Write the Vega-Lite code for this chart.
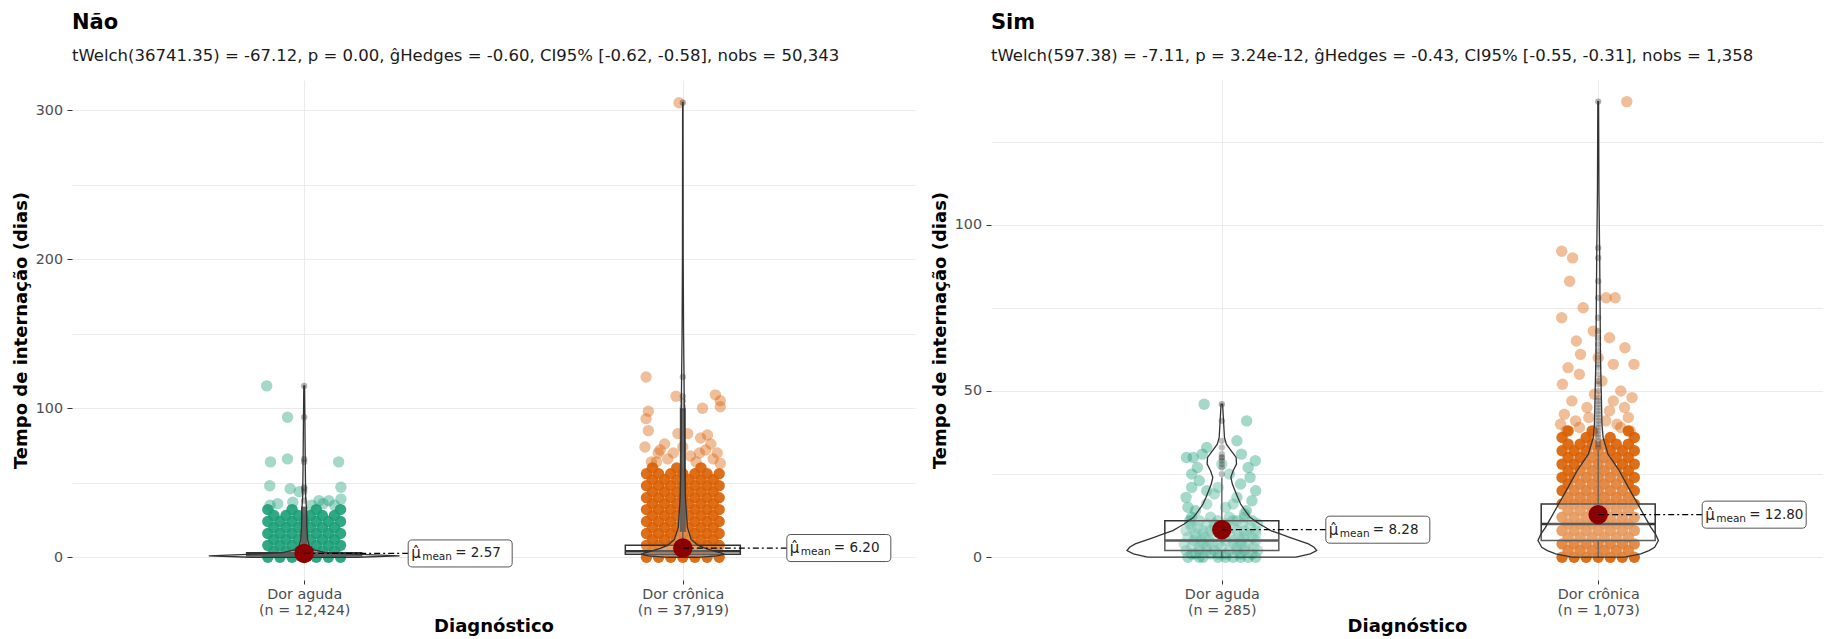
{
"$schema": "https://vega.github.io/schema/vega-lite/v6.json",
"background": "white",
"padding": {"left": 12, "top": 11, "right": 0, "bottom": 0},
"spacing": 16,
"config": {
 "font": "DejaVu Sans",
 "view": {"stroke": null},
 "axis": {"domain": false, "gridColor": "#EBEBEB", "gridWidth": 1.1, "tickColor": "#333333", "tickWidth": 1, "labelColor": "#4D4D4D", "labelFont": "DejaVu Sans", "titleFont": "DejaVu Sans", "titleFontWeight": "bold", "titleColor": "#000000", "titleFontSize": 18, "labelFontSize": 14.3},
 "axisX": {"tickSize": 4, "labelPadding": 3, "titlePadding": 0, "labelLineHeight": 16.5},
 "axisY": {"tickSize": 5, "labelPadding": 4.5, "titlePadding": 5},
 "title": {"anchor": "start", "frame": "group", "font": "DejaVu Sans", "fontSize": 21, "fontWeight": "bold", "color": "#000000", "subtitleFont": "DejaVu Sans", "subtitleFontSize": 16.5, "subtitleColor": "#1A1A1A", "subtitlePadding": 15, "offset": 16}
},
"datasets": {
 "nD": [
 {"x":0.904,"y":0},{"x":0.936,"y":0},{"x":0.968,"y":0},{"x":1,"y":0},{"x":1.032,"y":0},{"x":1.064,"y":0},{"x":1.096,"y":0},
 {"x":0.92,"y":4},{"x":0.952,"y":4},{"x":0.984,"y":4},{"x":1.016,"y":4},{"x":1.048,"y":4},{"x":1.08,"y":4},
 {"x":0.904,"y":8},{"x":0.936,"y":8},{"x":0.968,"y":8},{"x":1,"y":8},{"x":1.032,"y":8},{"x":1.064,"y":8},{"x":1.096,"y":8},
 {"x":0.92,"y":12},{"x":0.952,"y":12},{"x":0.984,"y":12},{"x":1.016,"y":12},{"x":1.048,"y":12},{"x":1.08,"y":12},
 {"x":0.904,"y":16},{"x":0.936,"y":16},{"x":0.968,"y":16},{"x":1,"y":16},{"x":1.032,"y":16},{"x":1.064,"y":16},{"x":1.096,"y":16},
 {"x":0.92,"y":20},{"x":0.952,"y":20},{"x":0.984,"y":20},{"x":1.016,"y":20},{"x":1.048,"y":20},{"x":1.08,"y":20},
 {"x":0.904,"y":24},{"x":0.936,"y":24},{"x":0.968,"y":24},{"x":1,"y":24},{"x":1.032,"y":24},{"x":1.064,"y":24},{"x":1.096,"y":24},
 {"x":0.92,"y":28},{"x":0.952,"y":28},{"x":0.984,"y":28},{"x":1.016,"y":28},{"x":1.048,"y":28},{"x":1.08,"y":28},
 {"x":0.904,"y":32},{"x":0.968,"y":32},{"x":1.032,"y":32},{"x":1.096,"y":32},
 {"x":1.904,"y":0},{"x":1.936,"y":0},{"x":1.968,"y":0},{"x":2,"y":0},{"x":2.032,"y":0},{"x":2.064,"y":0},{"x":2.096,"y":0},
 {"x":1.92,"y":4},{"x":1.952,"y":4},{"x":1.984,"y":4},{"x":2.016,"y":4},{"x":2.048,"y":4},{"x":2.08,"y":4},
 {"x":1.904,"y":8},{"x":1.936,"y":8},{"x":1.968,"y":8},{"x":2,"y":8},{"x":2.032,"y":8},{"x":2.064,"y":8},{"x":2.096,"y":8},
 {"x":1.92,"y":12},{"x":1.952,"y":12},{"x":1.984,"y":12},{"x":2.016,"y":12},{"x":2.048,"y":12},{"x":2.08,"y":12},
 {"x":1.904,"y":16},{"x":1.936,"y":16},{"x":1.968,"y":16},{"x":2,"y":16},{"x":2.032,"y":16},{"x":2.064,"y":16},{"x":2.096,"y":16},
 {"x":1.92,"y":20},{"x":1.952,"y":20},{"x":1.984,"y":20},{"x":2.016,"y":20},{"x":2.048,"y":20},{"x":2.08,"y":20},
 {"x":1.904,"y":24},{"x":1.936,"y":24},{"x":1.968,"y":24},{"x":2,"y":24},{"x":2.032,"y":24},{"x":2.064,"y":24},{"x":2.096,"y":24},
 {"x":1.92,"y":28},{"x":1.952,"y":28},{"x":1.984,"y":28},{"x":2.016,"y":28},{"x":2.048,"y":28},{"x":2.08,"y":28},
 {"x":1.904,"y":32},{"x":1.936,"y":32},{"x":1.968,"y":32},{"x":2,"y":32},{"x":2.032,"y":32},{"x":2.064,"y":32},{"x":2.096,"y":32},
 {"x":1.92,"y":36},{"x":1.952,"y":36},{"x":1.984,"y":36},{"x":2.016,"y":36},{"x":2.048,"y":36},{"x":2.08,"y":36},
 {"x":1.904,"y":40},{"x":1.936,"y":40},{"x":1.968,"y":40},{"x":2,"y":40},{"x":2.032,"y":40},{"x":2.064,"y":40},{"x":2.096,"y":40},
 {"x":1.92,"y":44},{"x":1.952,"y":44},{"x":1.984,"y":44},{"x":2.016,"y":44},{"x":2.048,"y":44},{"x":2.08,"y":44},
 {"x":1.904,"y":48},{"x":1.936,"y":48},{"x":1.968,"y":48},{"x":2,"y":48},{"x":2.032,"y":48},{"x":2.064,"y":48},{"x":2.096,"y":48},
 {"x":1.92,"y":52},{"x":1.952,"y":52},{"x":1.984,"y":52},{"x":2.016,"y":52},{"x":2.048,"y":52},{"x":2.08,"y":52},
 {"x":1.904,"y":56},{"x":1.936,"y":56},{"x":1.968,"y":56},{"x":2,"y":56},{"x":2.032,"y":56},{"x":2.064,"y":56},{"x":2.096,"y":56},
 {"x":1.92,"y":60},{"x":1.984,"y":60},{"x":2.048,"y":60}
 ],
 "nS": [
 {"x":0.901,"y":115},{"x":0.956,"y":94},{"x":0.956,"y":66},{"x":0.911,"y":64},{"x":1.091,"y":64},{"x":0.909,"y":48},{"x":0.963,"y":46},{"x":0.987,"y":44},{"x":1.097,"y":47},{"x":1.039,"y":38},{"x":1.065,"y":38},{"x":1.097,"y":39},{"x":0.93,"y":36},{"x":1.02,"y":35},{"x":0.97,"y":37},{"x":1.08,"y":35},{"x":0.91,"y":35},{"x":1.05,"y":36},
 {"x":1.99,"y":305},{"x":1.903,"y":121},{"x":2.086,"y":109},{"x":2.099,"y":105},{"x":2.099,"y":101},{"x":2.052,"y":100},{"x":1.909,"y":98},{"x":1.982,"y":108},{"x":1.903,"y":93},{"x":1.909,"y":85},{"x":1.987,"y":83},{"x":2.013,"y":83},{"x":2.065,"y":82},{"x":2.047,"y":80},{"x":1.9,"y":74},{"x":1.952,"y":76},{"x":2.074,"y":76},{"x":2.091,"y":70},{"x":1.935,"y":70},{"x":2.044,"y":70},{"x":2.099,"y":63},{"x":1.917,"y":64},{"x":1.96,"y":66},{"x":2.02,"y":68},{"x":2.08,"y":66},{"x":1.94,"y":72},{"x":2,"y":74},{"x":1.93,"y":64},{"x":2.035,"y":64},{"x":1.975,"y":70},{"x":2.06,"y":72}
 ],
 "nV": [
 {"g":"a","y":0,"lo":0.86,"hi":1.14},{"g":"a","y":1,"lo":0.748,"hi":1.252},{"g":"a","y":2,"lo":0.85,"hi":1.15},{"g":"a","y":3,"lo":0.94,"hi":1.06},{"g":"a","y":5,"lo":0.975,"hi":1.025},{"g":"a","y":8,"lo":0.987,"hi":1.013},{"g":"a","y":12,"lo":0.991,"hi":1.009},{"g":"a","y":20,"lo":0.993,"hi":1.007},{"g":"a","y":33,"lo":0.994,"hi":1.006},{"g":"a","y":40,"lo":0.996,"hi":1.004},{"g":"a","y":60,"lo":0.997,"hi":1.003},{"g":"a","y":90,"lo":0.998,"hi":1.002},{"g":"a","y":115,"lo":0.999,"hi":1.001},
 {"g":"c","y":0,"lo":1.96,"hi":2.04},{"g":"c","y":1,"lo":1.91,"hi":2.09},{"g":"c","y":2,"lo":1.89,"hi":2.11},{"g":"c","y":3,"lo":1.9,"hi":2.1},{"g":"c","y":4,"lo":1.915,"hi":2.085},{"g":"c","y":6,"lo":1.94,"hi":2.06},{"g":"c","y":8,"lo":1.96,"hi":2.04},{"g":"c","y":12,"lo":1.978,"hi":2.022},{"g":"c","y":20,"lo":1.988,"hi":2.012},{"g":"c","y":40,"lo":1.993,"hi":2.007},{"g":"c","y":60,"lo":1.995,"hi":2.005},{"g":"c","y":100,"lo":1.996,"hi":2.004},{"g":"c","y":150,"lo":1.998,"hi":2.002},{"g":"c","y":200,"lo":1.999,"hi":2.001},{"g":"c","y":305,"lo":1.9995,"hi":2.0005}
 ],
 "nB": [{"x":1,"q1":1,"med":2,"q3":3},{"x":2,"q1":2,"med":4,"q3":8}],
 "nW": [{"x":1,"a":0,"b":1},{"x":1,"a":3,"b":6},{"x":2,"a":0,"b":2},{"x":2,"a":8,"b":17}],
 "nBand": [{"x":1,"a":6,"b":34},{"x":2,"a":17,"b":100}],
 "nO": [{"x":1,"y":38},{"x":1,"y":44},{"x":1,"y":46},{"x":1,"y":47},{"x":1,"y":64},{"x":1,"y":66},{"x":1,"y":94},{"x":1,"y":115},{"x":2,"y":101},{"x":2,"y":105},{"x":2,"y":108},{"x":2,"y":121},{"x":2,"y":305}],
 "nM": [{"x":1,"m":2.57,"t":"= 2.57"},{"x":2,"m":6.2,"t":"= 6.20"}],
 "sD": [
 {"x":1.904,"y":0},{"x":1.936,"y":0},{"x":1.968,"y":0},{"x":2,"y":0},{"x":2.032,"y":0},{"x":2.064,"y":0},{"x":2.096,"y":0},
 {"x":1.92,"y":2},{"x":1.952,"y":2},{"x":1.984,"y":2},{"x":2.016,"y":2},{"x":2.048,"y":2},{"x":2.08,"y":2},
 {"x":1.904,"y":4},{"x":1.936,"y":4},{"x":1.968,"y":4},{"x":2,"y":4},{"x":2.032,"y":4},{"x":2.064,"y":4},{"x":2.096,"y":4},
 {"x":1.92,"y":6},{"x":1.952,"y":6},{"x":1.984,"y":6},{"x":2.016,"y":6},{"x":2.048,"y":6},{"x":2.08,"y":6},
 {"x":1.904,"y":8},{"x":1.936,"y":8},{"x":1.968,"y":8},{"x":2,"y":8},{"x":2.032,"y":8},{"x":2.064,"y":8},{"x":2.096,"y":8},
 {"x":1.92,"y":10},{"x":1.952,"y":10},{"x":1.984,"y":10},{"x":2.016,"y":10},{"x":2.048,"y":10},{"x":2.08,"y":10},
 {"x":1.904,"y":12},{"x":1.936,"y":12},{"x":1.968,"y":12},{"x":2,"y":12},{"x":2.032,"y":12},{"x":2.064,"y":12},{"x":2.096,"y":12},
 {"x":1.92,"y":14},{"x":1.952,"y":14},{"x":1.984,"y":14},{"x":2.016,"y":14},{"x":2.048,"y":14},{"x":2.08,"y":14},
 {"x":1.904,"y":16},{"x":1.936,"y":16},{"x":1.968,"y":16},{"x":2,"y":16},{"x":2.032,"y":16},{"x":2.064,"y":16},{"x":2.096,"y":16},
 {"x":1.92,"y":18},{"x":1.952,"y":18},{"x":1.984,"y":18},{"x":2.016,"y":18},{"x":2.048,"y":18},{"x":2.08,"y":18},
 {"x":1.904,"y":20},{"x":1.936,"y":20},{"x":1.968,"y":20},{"x":2,"y":20},{"x":2.032,"y":20},{"x":2.064,"y":20},{"x":2.096,"y":20},
 {"x":1.92,"y":22},{"x":1.952,"y":22},{"x":1.984,"y":22},{"x":2.016,"y":22},{"x":2.048,"y":22},{"x":2.08,"y":22},
 {"x":1.904,"y":24},{"x":1.936,"y":24},{"x":1.968,"y":24},{"x":2,"y":24},{"x":2.032,"y":24},{"x":2.064,"y":24},{"x":2.096,"y":24},
 {"x":1.92,"y":26},{"x":1.952,"y":26},{"x":1.984,"y":26},{"x":2.016,"y":26},{"x":2.048,"y":26},{"x":2.08,"y":26},
 {"x":1.904,"y":28},{"x":1.936,"y":28},{"x":1.968,"y":28},{"x":2,"y":28},{"x":2.032,"y":28},{"x":2.064,"y":28},{"x":2.096,"y":28},
 {"x":1.92,"y":30},{"x":1.952,"y":30},{"x":1.984,"y":30},{"x":2.016,"y":30},{"x":2.048,"y":30},{"x":2.08,"y":30},
 {"x":1.904,"y":32},{"x":1.936,"y":32},{"x":1.968,"y":32},{"x":2,"y":32},{"x":2.032,"y":32},{"x":2.064,"y":32},{"x":2.096,"y":32},
 {"x":1.92,"y":34},{"x":1.952,"y":34},{"x":1.984,"y":34},{"x":2.016,"y":34},{"x":2.048,"y":34},{"x":2.08,"y":34},
 {"x":1.904,"y":36},{"x":1.968,"y":36},{"x":2.032,"y":36},{"x":2.096,"y":36},
 {"x":1.92,"y":38},{"x":1.984,"y":38},{"x":2.08,"y":38}
 ],
 "sS": [
 {"x":0.91,"y":0},{"x":0.95,"y":0},{"x":0.99,"y":0},{"x":1.03,"y":0},{"x":1.07,"y":0},{"x":1.09,"y":0},
 {"x":0.93,"y":1},{"x":0.97,"y":1},{"x":1.01,"y":1},{"x":1.05,"y":1},{"x":1.08,"y":1},
 {"x":0.905,"y":2},{"x":0.94,"y":2},{"x":0.98,"y":2},{"x":1.02,"y":2},{"x":1.06,"y":2},{"x":1.095,"y":2},
 {"x":0.92,"y":3},{"x":0.96,"y":3},{"x":1,"y":3},{"x":1.04,"y":3},{"x":1.085,"y":3},
 {"x":0.9,"y":4},{"x":0.95,"y":4},{"x":0.99,"y":4},{"x":1.03,"y":4},{"x":1.07,"y":4},
 {"x":0.925,"y":5},{"x":0.965,"y":5},{"x":1.01,"y":5},{"x":1.05,"y":5},{"x":1.09,"y":5},
 {"x":0.91,"y":6},{"x":0.955,"y":6},{"x":1,"y":6},{"x":1.045,"y":6},{"x":1.08,"y":6},
 {"x":0.93,"y":7},{"x":0.975,"y":7},{"x":1.02,"y":7},{"x":1.065,"y":7},
 {"x":0.905,"y":8},{"x":0.95,"y":8},{"x":0.995,"y":8},{"x":1.04,"y":8},{"x":1.09,"y":8},
 {"x":0.935,"y":9},{"x":0.98,"y":9},{"x":1.03,"y":9},{"x":1.075,"y":9},
 {"x":0.915,"y":10},{"x":0.96,"y":10},{"x":1.01,"y":10},{"x":1.055,"y":10},{"x":1.095,"y":10},
 {"x":0.94,"y":11},{"x":0.99,"y":11},{"x":1.04,"y":11},{"x":1.08,"y":11},
 {"x":0.92,"y":12},{"x":0.97,"y":12},{"x":1.02,"y":12},{"x":1.06,"y":12},
 {"x":0.94,"y":0},{"x":1.01,"y":0},{"x":1.05,"y":0},{"x":0.92,"y":1},{"x":0.99,"y":1},{"x":1.04,"y":2},{"x":0.96,"y":2},{"x":0.94,"y":3},{"x":1.06,"y":3},{"x":0.975,"y":4},{"x":1.05,"y":4},{"x":0.945,"y":5},{"x":1.03,"y":5},{"x":0.93,"y":6},{"x":1.06,"y":6},{"x":0.95,"y":7},{"x":1.09,"y":7},{"x":0.97,"y":8},{"x":1.06,"y":8},{"x":0.92,"y":9},{"x":1.01,"y":9},{"x":0.98,"y":10},{"x":1.03,"y":11},{"x":0.915,"y":11},
 {"x":0.93,"y":14},{"x":1.06,"y":13},{"x":1.01,"y":15},{"x":0.96,"y":16},{"x":1.08,"y":17},{"x":0.905,"y":18},{"x":1.04,"y":18},{"x":0.98,"y":19},{"x":1.09,"y":20},{"x":0.92,"y":21},{"x":0.99,"y":21},{"x":1.05,"y":22},{"x":0.94,"y":23},{"x":1.075,"y":24},{"x":1.02,"y":25},{"x":0.96,"y":20},{"x":1.03,"y":16},{"x":0.91,"y":15},{"x":1.065,"y":14},
 {"x":0.906,"y":30},{"x":0.924,"y":30},{"x":0.948,"y":31},{"x":1.052,"y":31},{"x":1.089,"y":29},{"x":0.953,"y":46},{"x":1.066,"y":41},{"x":0.935,"y":27},{"x":1.07,"y":27},{"x":1,"y":28},{"x":0.96,"y":33},{"x":1.04,"y":35},{"x":0.92,"y":25},
 {"x":2.076,"y":137},{"x":1.903,"y":92},{"x":1.932,"y":90},{"x":1.924,"y":83},{"x":1.903,"y":72},{"x":2.045,"y":78},{"x":2.021,"y":78},{"x":2.071,"y":63},{"x":1.942,"y":65},{"x":1.953,"y":61},{"x":2.04,"y":58},{"x":1.987,"y":68},{"x":1.905,"y":52},{"x":2.09,"y":48},{"x":2.06,"y":50},{"x":1.93,"y":47},{"x":1.97,"y":45},{"x":2.03,"y":44},{"x":2.08,"y":42},{"x":1.91,"y":43},{"x":1.95,"y":55},{"x":2.01,"y":53},{"x":2.095,"y":58},{"x":1.94,"y":41},{"x":2.05,"y":40},{"x":1.99,"y":49},{"x":1.92,"y":57},{"x":2.07,"y":45},{"x":1.96,"y":75},{"x":2.03,"y":66},{"x":2.085,"y":38},{"x":1.915,"y":38},{"x":1.975,"y":42},{"x":2.04,"y":47},{"x":2,"y":60},{"x":1.9,"y":40},{"x":2.06,"y":39},{"x":1.95,"y":39},{"x":2.02,"y":41},{"x":1.985,"y":37}
 ],
 "sV": [
 {"g":"a","y":0,"lo":0.803,"hi":1.197},{"g":"a","y":1,"lo":0.765,"hi":1.235},{"g":"a","y":2,"lo":0.748,"hi":1.252},{"g":"a","y":3,"lo":0.755,"hi":1.245},{"g":"a","y":4,"lo":0.77,"hi":1.23},{"g":"a","y":5,"lo":0.795,"hi":1.205},{"g":"a","y":6,"lo":0.82,"hi":1.18},{"g":"a","y":7,"lo":0.845,"hi":1.155},{"g":"a","y":8,"lo":0.87,"hi":1.13},{"g":"a","y":9,"lo":0.885,"hi":1.115},{"g":"a","y":10,"lo":0.9,"hi":1.1},{"g":"a","y":12,"lo":0.925,"hi":1.075},{"g":"a","y":14,"lo":0.938,"hi":1.062},{"g":"a","y":16,"lo":0.95,"hi":1.05},{"g":"a","y":18,"lo":0.958,"hi":1.042},{"g":"a","y":20,"lo":0.965,"hi":1.035},{"g":"a","y":22,"lo":0.972,"hi":1.028},{"g":"a","y":24,"lo":0.976,"hi":1.024},{"g":"a","y":26,"lo":0.97,"hi":1.03},{"g":"a","y":28,"lo":0.961,"hi":1.039},{"g":"a","y":30,"lo":0.962,"hi":1.038},{"g":"a","y":32,"lo":0.975,"hi":1.025},{"g":"a","y":34,"lo":0.988,"hi":1.012},{"g":"a","y":36,"lo":0.993,"hi":1.007},{"g":"a","y":40,"lo":0.995,"hi":1.005},{"g":"a","y":46,"lo":0.998,"hi":1.002},
 {"g":"c","y":0,"lo":1.93,"hi":2.07},{"g":"c","y":1,"lo":1.887,"hi":2.113},{"g":"c","y":2,"lo":1.865,"hi":2.135},{"g":"c","y":3,"lo":1.85,"hi":2.15},{"g":"c","y":5,"lo":1.84,"hi":2.16},{"g":"c","y":7,"lo":1.848,"hi":2.152},{"g":"c","y":9,"lo":1.86,"hi":2.14},{"g":"c","y":12,"lo":1.875,"hi":2.125},{"g":"c","y":16,"lo":1.895,"hi":2.105},{"g":"c","y":21,"lo":1.92,"hi":2.08},{"g":"c","y":26,"lo":1.944,"hi":2.056},{"g":"c","y":31,"lo":1.974,"hi":2.026},{"g":"c","y":36,"lo":1.987,"hi":2.013},{"g":"c","y":40,"lo":1.99,"hi":2.01},{"g":"c","y":50,"lo":1.992,"hi":2.008},{"g":"c","y":60,"lo":1.994,"hi":2.006},{"g":"c","y":75,"lo":1.995,"hi":2.005},{"g":"c","y":90,"lo":1.996,"hi":2.004},{"g":"c","y":110,"lo":1.998,"hi":2.002},{"g":"c","y":137,"lo":1.999,"hi":2.001}
 ],
 "sB": [{"x":1,"q1":2,"med":5,"q3":11},{"x":2,"q1":5,"med":10,"q3":16}],
 "sW": [{"x":1,"a":0,"b":2},{"x":1,"a":11,"b":24},{"x":2,"a":0,"b":5},{"x":2,"a":16,"b":32}],
 "sO": [{"x":1,"y":25},{"x":1,"y":27},{"x":1,"y":28},{"x":1,"y":29},{"x":1,"y":30},{"x":1,"y":30},{"x":1,"y":31},{"x":1,"y":33},{"x":1,"y":35},{"x":1,"y":41},{"x":1,"y":46},
 {"x":2,"y":33},{"x":2,"y":34},{"x":2,"y":35},{"x":2,"y":36},{"x":2,"y":37},{"x":2,"y":38},{"x":2,"y":39},{"x":2,"y":40},{"x":2,"y":41},{"x":2,"y":42},{"x":2,"y":43},{"x":2,"y":44},{"x":2,"y":45},{"x":2,"y":46},{"x":2,"y":47},{"x":2,"y":48},{"x":2,"y":50},{"x":2,"y":52},{"x":2,"y":53},{"x":2,"y":55},{"x":2,"y":57},{"x":2,"y":58},{"x":2,"y":60},{"x":2,"y":62},{"x":2,"y":64},{"x":2,"y":66},{"x":2,"y":68},{"x":2,"y":72},{"x":2,"y":78},{"x":2,"y":83},{"x":2,"y":90},{"x":2,"y":93},{"x":2,"y":137}],
 "sM": [{"x":1,"m":8.28,"t":"= 8.28"},{"x":2,"m":12.8,"t":"= 12.80"}]
},
"hconcat": [
 {
  "title": {"text": "Não", "subtitle": "tWelch(36741.35) = -67.12, p = 0.00, ĝHedges = -0.60, CI95% [-0.62, -0.58], nobs = 50,343"},
  "width": 843, "height": 500,
  "layer": [
   {"data": {"name": "nD"}, "mark": {"type": "circle", "size": 130, "opacity": 0.9},
    "encoding": {
     "x": {"field": "x", "type": "quantitative", "scale": {"domain": [0.4, 2.6], "nice": false, "zero": false},
           "axis": {"values": [1, 2], "title": "Diagnóstico", "grid": true, "labelExpr": "datum.value == 1 ? ['Dor aguda', '(n = 12,424)'] : ['Dor crônica', '(n = 37,919)']"}},
     "y": {"field": "y", "type": "quantitative", "scale": {"domain": [-15.25, 320.25], "nice": false, "zero": false},
           "axis": {"values": [0, 50, 100, 150, 200, 250, 300], "title": "Tempo de internação (dias)", "labelExpr": "datum.value % 100 === 0 ? datum.label : ''", "tickOpacity": {"condition": {"test": "datum.value % 100 !== 0", "value": 0}, "value": 1}}},
     "color": {"condition": {"test": "datum.x < 1.5", "value": "#1B9E77"}, "value": "#D95F02"}}},
   {"data": {"name": "nS"}, "mark": {"type": "circle", "size": 130, "opacity": 0.4},
    "encoding": {"x": {"field": "x", "type": "quantitative", "title": "Diagnóstico"}, "y": {"field": "y", "type": "quantitative", "title": "Tempo de internação (dias)"},
     "color": {"condition": {"test": "datum.x < 1.5", "value": "#1B9E77"}, "value": "#D95F02"}}},
   {"data": {"name": "nW"}, "mark": {"type": "rule", "color": "#333333", "strokeWidth": 1.3},
    "encoding": {"x": {"field": "x", "type": "quantitative", "title": "Diagnóstico"}, "y": {"field": "a", "type": "quantitative", "title": "Tempo de internação (dias)"}, "y2": {"field": "b"}}},
   {"data": {"name": "nBand"}, "mark": {"type": "rule", "color": "#333333", "strokeWidth": 6, "opacity": 0.9},
    "encoding": {"x": {"field": "x", "type": "quantitative", "title": "Diagnóstico"}, "y": {"field": "a", "type": "quantitative", "title": "Tempo de internação (dias)"}, "y2": {"field": "b"}}},
   {"data": {"name": "nO"}, "mark": {"type": "circle", "size": 40, "color": "#000000", "opacity": 0.3},
    "encoding": {"x": {"field": "x", "type": "quantitative", "title": "Diagnóstico"}, "y": {"field": "y", "type": "quantitative", "title": "Tempo de internação (dias)"}}},
   {"data": {"name": "nB"}, "mark": {"type": "bar", "orient": "vertical", "size": 115, "fill": "#FFFFFF", "fillOpacity": 0.2, "stroke": "#333333", "strokeWidth": 1.5},
    "encoding": {"x": {"field": "x", "type": "quantitative", "title": "Diagnóstico"}, "y": {"field": "q1", "type": "quantitative", "title": "Tempo de internação (dias)"}, "y2": {"field": "q3"}}},
   {"data": {"name": "nB"}, "mark": {"type": "tick", "orient": "horizontal", "size": 115, "thickness": 2.5, "color": "#333333", "opacity": 1},
    "encoding": {"x": {"field": "x", "type": "quantitative", "title": "Diagnóstico"}, "y": {"field": "med", "type": "quantitative", "title": "Tempo de internação (dias)"}}},
   {"data": {"name": "nV"}, "mark": {"type": "area", "orient": "horizontal", "fill": "#FFFFFF", "fillOpacity": 0.2, "stroke": "#333333", "strokeWidth": 1.3},
    "encoding": {"y": {"field": "y", "type": "quantitative", "title": "Tempo de internação (dias)"}, "x": {"field": "lo", "type": "quantitative", "title": "Diagnóstico"}, "x2": {"field": "hi"}, "detail": {"field": "g"}}},
   {"data": {"name": "nM"}, "mark": {"type": "circle", "size": 380, "color": "#8B0000", "opacity": 1},
    "encoding": {"x": {"field": "x", "type": "quantitative", "title": "Diagnóstico"}, "y": {"field": "m", "type": "quantitative", "title": "Tempo de internação (dias)"}}},
   {"data": {"name": "nM"}, "mark": {"type": "point", "shape": "M0,0H2", "size": 10816, "filled": false, "stroke": "#000000", "strokeWidth": 1.3, "strokeDash": [6, 3, 2, 3], "opacity": 1},
    "encoding": {"x": {"field": "x", "type": "quantitative", "title": "Diagnóstico"}, "y": {"field": "m", "type": "quantitative", "title": "Tempo de internação (dias)"}}},
   {"data": {"name": "nM"}, "mark": {"type": "point", "shape": "M2.08,-0.26H3.92Q4,-0.26 4,-0.18V0.18Q4,0.26 3.92,0.26H2.08Q2,0.26 2,0.18V-0.18Q2,-0.26 2.08,-0.26Z", "size": 10816, "filled": true, "fill": "#FFFFFF", "stroke": "#555555", "strokeWidth": 1, "opacity": 1},
    "encoding": {"x": {"field": "x", "type": "quantitative", "title": "Diagnóstico"}, "y": {"field": "m", "type": "quantitative", "title": "Tempo de internação (dias)"}}},
   {"data": {"name": "nM"}, "mark": {"type": "text", "text": "μ̂", "dx": 107, "align": "left", "baseline": "middle", "fontSize": 15, "color": "#222222"},
    "encoding": {"x": {"field": "x", "type": "quantitative", "title": "Diagnóstico"}, "y": {"field": "m", "type": "quantitative", "title": "Tempo de internação (dias)"}}},
   {"data": {"name": "nM"}, "mark": {"type": "text", "text": "mean", "dx": 118, "dy": 4, "align": "left", "baseline": "middle", "fontSize": 10.5, "color": "#222222"},
    "encoding": {"x": {"field": "x", "type": "quantitative", "title": "Diagnóstico"}, "y": {"field": "m", "type": "quantitative", "title": "Tempo de internação (dias)"}}},
   {"data": {"name": "nM"}, "mark": {"type": "text", "dx": 151, "align": "left", "baseline": "middle", "fontSize": 13.5, "color": "#222222"},
    "encoding": {"x": {"field": "x", "type": "quantitative", "title": "Diagnóstico"}, "y": {"field": "m", "type": "quantitative", "title": "Tempo de internação (dias)"}, "text": {"field": "t"}}}
  ]
 },
 {
  "title": {"text": "Sim", "subtitle": "tWelch(597.38) = -7.11, p = 3.24e-12, ĝHedges = -0.43, CI95% [-0.55, -0.31], nobs = 1,358"},
  "width": 832, "height": 500,
  "layer": [
   {"data": {"name": "sD"}, "mark": {"type": "circle", "size": 130, "opacity": 0.9},
    "encoding": {
     "x": {"field": "x", "type": "quantitative", "scale": {"domain": [0.4, 2.584], "nice": false, "zero": false},
           "axis": {"values": [1, 2], "title": "Diagnóstico", "grid": true, "labelExpr": "datum.value == 1 ? ['Dor aguda', '(n = 285)'] : ['Dor crônica', '(n = 1,073)']"}},
     "y": {"field": "y", "type": "quantitative", "scale": {"domain": [-6.85, 143.5], "nice": false, "zero": false},
           "axis": {"values": [0, 25, 50, 75, 100, 125], "title": "Tempo de internação (dias)", "labelExpr": "datum.value % 50 === 0 ? datum.label : ''", "tickOpacity": {"condition": {"test": "datum.value % 50 !== 0", "value": 0}, "value": 1}}},
     "color": {"condition": {"test": "datum.x < 1.5", "value": "#1B9E77"}, "value": "#D95F02"}}},
   {"data": {"name": "sS"}, "mark": {"type": "circle", "size": 130, "opacity": 0.4},
    "encoding": {"x": {"field": "x", "type": "quantitative", "title": "Diagnóstico"}, "y": {"field": "y", "type": "quantitative", "title": "Tempo de internação (dias)"},
     "color": {"condition": {"test": "datum.x < 1.5", "value": "#1B9E77"}, "value": "#D95F02"}}},
   {"data": {"name": "sW"}, "mark": {"type": "rule", "color": "#333333", "strokeWidth": 1.3},
    "encoding": {"x": {"field": "x", "type": "quantitative", "title": "Diagnóstico"}, "y": {"field": "a", "type": "quantitative", "title": "Tempo de internação (dias)"}, "y2": {"field": "b"}}},
   {"data": {"name": "sO"}, "mark": {"type": "circle", "size": 40, "color": "#000000", "opacity": 0.3},
    "encoding": {"x": {"field": "x", "type": "quantitative", "title": "Diagnóstico"}, "y": {"field": "y", "type": "quantitative", "title": "Tempo de internação (dias)"}}},
   {"data": {"name": "sB"}, "mark": {"type": "bar", "orient": "vertical", "size": 114, "fill": "#FFFFFF", "fillOpacity": 0.2, "stroke": "#333333", "strokeWidth": 1.5},
    "encoding": {"x": {"field": "x", "type": "quantitative", "title": "Diagnóstico"}, "y": {"field": "q1", "type": "quantitative", "title": "Tempo de internação (dias)"}, "y2": {"field": "q3"}}},
   {"data": {"name": "sB"}, "mark": {"type": "tick", "orient": "horizontal", "size": 114, "thickness": 2.5, "color": "#333333", "opacity": 1},
    "encoding": {"x": {"field": "x", "type": "quantitative", "title": "Diagnóstico"}, "y": {"field": "med", "type": "quantitative", "title": "Tempo de internação (dias)"}}},
   {"data": {"name": "sV"}, "mark": {"type": "area", "orient": "horizontal", "fill": "#FFFFFF", "fillOpacity": 0.2, "stroke": "#333333", "strokeWidth": 1.3},
    "encoding": {"y": {"field": "y", "type": "quantitative", "title": "Tempo de internação (dias)"}, "x": {"field": "lo", "type": "quantitative", "title": "Diagnóstico"}, "x2": {"field": "hi"}, "detail": {"field": "g"}}},
   {"data": {"name": "sM"}, "mark": {"type": "circle", "size": 380, "color": "#8B0000", "opacity": 1},
    "encoding": {"x": {"field": "x", "type": "quantitative", "title": "Diagnóstico"}, "y": {"field": "m", "type": "quantitative", "title": "Tempo de internação (dias)"}}},
   {"data": {"name": "sM"}, "mark": {"type": "point", "shape": "M0,0H2", "size": 10816, "filled": false, "stroke": "#000000", "strokeWidth": 1.3, "strokeDash": [6, 3, 2, 3], "opacity": 1},
    "encoding": {"x": {"field": "x", "type": "quantitative", "title": "Diagnóstico"}, "y": {"field": "m", "type": "quantitative", "title": "Tempo de internação (dias)"}}},
   {"data": {"name": "sM"}, "mark": {"type": "point", "shape": "M2.08,-0.26H3.92Q4,-0.26 4,-0.18V0.18Q4,0.26 3.92,0.26H2.08Q2,0.26 2,0.18V-0.18Q2,-0.26 2.08,-0.26Z", "size": 10816, "filled": true, "fill": "#FFFFFF", "stroke": "#555555", "strokeWidth": 1, "opacity": 1},
    "encoding": {"x": {"field": "x", "type": "quantitative", "title": "Diagnóstico"}, "y": {"field": "m", "type": "quantitative", "title": "Tempo de internação (dias)"}}},
   {"data": {"name": "sM"}, "mark": {"type": "text", "text": "μ̂", "dx": 107, "align": "left", "baseline": "middle", "fontSize": 15, "color": "#222222"},
    "encoding": {"x": {"field": "x", "type": "quantitative", "title": "Diagnóstico"}, "y": {"field": "m", "type": "quantitative", "title": "Tempo de internação (dias)"}}},
   {"data": {"name": "sM"}, "mark": {"type": "text", "text": "mean", "dx": 118, "dy": 4, "align": "left", "baseline": "middle", "fontSize": 10.5, "color": "#222222"},
    "encoding": {"x": {"field": "x", "type": "quantitative", "title": "Diagnóstico"}, "y": {"field": "m", "type": "quantitative", "title": "Tempo de internação (dias)"}}},
   {"data": {"name": "sM"}, "mark": {"type": "text", "dx": 151, "align": "left", "baseline": "middle", "fontSize": 13.5, "color": "#222222"},
    "encoding": {"x": {"field": "x", "type": "quantitative", "title": "Diagnóstico"}, "y": {"field": "m", "type": "quantitative", "title": "Tempo de internação (dias)"}, "text": {"field": "t"}}}
  ]
 }
]
}
